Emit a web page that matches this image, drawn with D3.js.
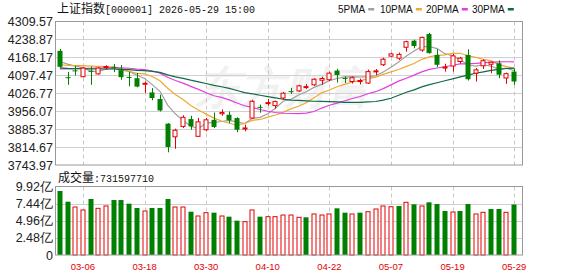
<!DOCTYPE html>
<html>
<head>
<meta charset="utf-8">
<script src="https://cdn.jsdelivr.net/npm/d3@7"></script>
<style>
  body { margin: 0; background: #fff; }
  svg text { font-family: "Liberation Sans", Arial, sans-serif; }
</style>
</head>
<body>
<div id="chart"></div>
<script>
// trading days shown in the window
var dates = ["03-03","03-04","03-05","03-06","03-09","03-10","03-11","03-12","03-13","03-16",
  "03-17","03-18","03-19","03-20","03-23","03-24","03-25","03-26","03-27","03-30",
  "03-31","04-01","04-02","04-03","04-07","04-08","04-09","04-10","04-13","04-14",
  "04-15","04-16","04-17","04-20","04-21","04-22","04-23","04-24","04-27","04-28",
  "04-29","04-30","05-06","05-07","05-08","05-11","05-12","05-13","05-14","05-15",
  "05-18","05-19","05-20","05-21","05-22","05-25","05-26","05-27","05-28","05-29"];
var tickDates = ["03-06","03-18","03-30","04-10","04-22","05-07","05-19","05-29"];

var open  = [4194,4090,4117,4092,4115,4103,4128,4131,4118,4091, 4086,4063,4030,4004,3907,3855,3896,3925,3857,3883,
             3922,3946,3942,3929,3886,3929,3973,3986,3978,4008, 4035,4036,4050,4060,4078,4080,4116,4087,4073,4074,
             4067,4112,4139,4173,4165,4208,4234,4197,4260,4178, 4127,4134,4152,4178,4106,4135,4141,4145,4087,4112];
var high  = [4201,4111,4135,4129,4132,4129,4137,4142,4138,4112, 4107,4073,4047,4021,3909,3887,3940,3938,3930,3929,
             3951,3963,3955,3932,3903,4001,3982,4004,3998,4032, 4048,4060,4063,4086,4092,4112,4123,4093,4093,4084,
             4120,4122,4167,4186,4187,4234,4238,4250,4265,4200, 4143,4182,4170,4200,4126,4161,4151,4156,4108,4125];
var low   = [4127,4060,4097,4090,4060,4100,4120,4110,4080,4054, 4050,4028,3999,3955,3794,3808,3890,3883,3855,3877,
             3890,3938,3909,3873,3877,3925,3950,3978,3966,4000, 4024,4032,4044,4056,4060,4075,4069,4067,4065,4062,
             4064,4099,4134,4170,4158,4191,4204,4190,4183,4130, 4112,4112,4143,4077,4073,4122,4106,4086,4064,4060];
var close = [4131,4087,4113,4126,4112,4126,4132,4128,4090,4087, 4053,4066,4008,3959,3815,3881,3932,3896,3914,3922,
             3894,3951,3920,3883,3890,3995,3970,3990,3994,4027, 4032,4056,4053,4082,4085,4106,4099,4084,4088,4077,
             4112,4115,4161,4182,4180,4230,4213,4247,4185,4139, 4130,4174,4165,4082,4119,4155,4149,4100,4104,4073];
// estimated closes before the window, only used to start the moving averages
var priorCloses = [4150,4145,4140,4138,4132,4130,4128,4130,4127,4130,
                   4095,4100,4090,4105,4112,4108,4115,4110,4118,4117,
                   4110,4120,4128,4132,4140, 4140,4150,4158,4181];
var volume = [9.27e8,7.72e8,6.95e8,6.52e8,8.11e8,6.76e8,7.10e8,7.96e8,7.96e8,7.43e8,
              6.81e8,6.37e8,6.81e8,6.81e8,8.11e8,6.95e8,6.95e8,6.27e8,5.65e8,6.13e8,
              6.13e8,5.65e8,5.55e8,4.97e8,4.82e8,6.52e8,5.55e8,5.55e8,5.55e8,5.79e8,
              5.79e8,5.46e8,5.46e8,5.94e8,5.79e8,5.94e8,6.76e8,6.13e8,5.94e8,6.13e8,
              6.27e8,6.66e8,7.10e8,6.99e8,7.10e8,7.63e8,7.34e8,7.10e8,7.63e8,7.38e8,
              6.37e8,6.23e8,6.37e8,7.38e8,5.94e8,6.18e8,6.66e8,6.66e8,6.18e8,731597710];

var priceTicks = [4309.57,4238.87,4168.17,4097.47,4026.77,3956.07,3885.37,3814.67,3743.97];
var volTicks = [0, 2.48e8, 4.96e8, 7.44e8, 9.92e8];
var volTickLabels = ["0","2.48亿","4.96亿","7.44亿","9.92亿"];

var maDays = [5, 10, 20, 30];
var maColors = ["#a0a0a0", "#f0a830", "#e23ee2", "#0e6b45"];

var RED = "#e60000", GREEN = "#008000";

var W = 578, H = 276;
var left = 56, right = 522, plotEnd = 518;
var priceTop = 21.5, priceBottom = 165;
var volTop = 186.5, volBottom = 255;

var svg = d3.select("#chart").append("svg")
    .attr("width", W).attr("height", H);

var x = d3.scaleBand()
    .domain(d3.range(dates.length))
    .range([left, plotEnd])
    .padding(0);
var cx = function(i) { return x(i) + x.bandwidth() / 2; };

var y = d3.scaleLinear()
    .domain([priceTicks[priceTicks.length - 1], priceTicks[0]])
    .range([priceBottom, priceTop]);

var yv = d3.scaleLinear()
    .domain([0, volTicks[volTicks.length - 1]])
    .range([volBottom, volTop]);

// title
var title = svg.append("text").attr("x", 57).attr("y", 13).attr("font-size", 12).attr("fill", "#111");
title.append("tspan").attr("font-family", "Noto Sans CJK SC").text("上证指数");
title.append("tspan").attr("font-family", "Liberation Mono").attr("font-size", 10).text("[000001] 2026-05-29 15:00");

// legend
var legendX = [338, 380, 426, 472];
maDays.forEach(function(n, k) {
  var t = svg.append("text")
      .attr("x", legendX[k]).attr("y", 13)
      .attr("font-family", "Liberation Mono").attr("font-size", 10)
      .attr("fill", "#111")
      .text(n + "PMA");
  var w = t.node().getComputedTextLength();
  svg.append("rect")
      .attr("x", legendX[k] + w + 3).attr("y", 8)
      .attr("width", 6).attr("height", 2.5)
      .attr("fill", maColors[k]);
});

// watermark
svg.append("text")
    .attr("x", 196).attr("y", 103)
    .attr("font-family", "Noto Sans CJK SC").attr("font-size", 44).attr("font-weight", "bold")
    .attr("font-style", "italic")
    .attr("fill", "#000").attr("opacity", 0.05)
    .text("东方财富");

// price grid
var gp = svg.append("g");
gp.selectAll("line.h").data(priceTicks.slice(1, -1)).enter().append("line")
    .attr("x1", left).attr("x2", right)
    .attr("y1", function(d) { return Math.round(y(d)) + 0.5; })
    .attr("y2", function(d) { return Math.round(y(d)) + 0.5; })
    .attr("stroke", "#d0d0d0");
var tickIdx = tickDates.map(function(d) { return dates.indexOf(d); });
[[priceTop, priceBottom], [volTop, volBottom]].forEach(function(r) {
  svg.append("g").selectAll("line").data(tickIdx).enter().append("line")
      .attr("x1", function(i) { return Math.round(cx(i)) + 0.5; })
      .attr("x2", function(i) { return Math.round(cx(i)) + 0.5; })
      .attr("y1", r[0]).attr("y2", r[1])
      .attr("stroke", "#c8c8c8").attr("stroke-dasharray", "4,3");
});
svg.append("g").selectAll("line").data(volTicks.slice(1, -1)).enter().append("line")
    .attr("x1", left).attr("x2", right)
    .attr("y1", function(d) { return Math.round(yv(d)) + 0.5; })
    .attr("y2", function(d) { return Math.round(yv(d)) + 0.5; })
    .attr("stroke", "#d0d0d0");

// axis labels
svg.append("g").selectAll("text").data(priceTicks).enter().append("text")
    .attr("x", 53).attr("y", function(d) { return y(d) + 4.5; })
    .attr("text-anchor", "end").attr("font-size", 12.5).attr("fill", "#222")
    .text(function(d) { return d.toFixed(2); });
svg.append("g").selectAll("text").data(volTicks).enter().append("text")
    .attr("x", 53).attr("y", function(d) { return yv(d) + 4.5; })
    .attr("text-anchor", "end").attr("font-size", 12.5).attr("fill", "#222")
    .text(function(d, i) { return volTickLabels[i]; });
svg.append("g").selectAll("text").data(tickIdx).enter().append("text")
    .attr("x", function(i) { return cx(i); }).attr("y", 270)
    .attr("text-anchor", "middle")
    .attr("font-family", "Liberation Mono").attr("font-size", 9.5)
    .attr("fill", RED)
    .text(function(i) { return dates[i]; });

// volume caption
var cap = svg.append("text").attr("x", 58).attr("y", 182).attr("font-size", 12).attr("fill", "#111");
cap.append("tspan").attr("font-family", "Noto Sans CJK SC").text("成交量");
cap.append("tspan").attr("font-family", "Liberation Mono").attr("font-size", 10)
    .text(":" + volume[volume.length - 1]);

// moving averages
var allCloses = priorCloses.concat(close);
var off = priorCloses.length;
maDays.forEach(function(n, k) {
  var pts = close.map(function(c, i) {
    return [cx(i), y(d3.mean(allCloses.slice(off + i - n + 1, off + i + 1)))];
  });
  svg.append("path")
      .attr("d", d3.line()(pts))
      .attr("fill", "none")
      .attr("stroke", maColors[k]).attr("stroke-width", 1.2);
});

// candles
var bw = 5;
var candles = svg.append("g").selectAll("g").data(close).enter().append("g");
candles.append("line")
    .attr("x1", function(d, i) { return Math.round(cx(i)) + 0.5; })
    .attr("x2", function(d, i) { return Math.round(cx(i)) + 0.5; })
    .attr("y1", function(d, i) { return y(high[i]); })
    .attr("y2", function(d, i) { return y(low[i]); })
    .attr("stroke", function(d, i) { return close[i] >= open[i] ? RED : GREEN; });
candles.append("rect")
    .attr("x", function(d, i) { return Math.round(cx(i)) - 2 + (close[i] >= open[i] ? 0 : -0.5); })
    .attr("width", function(d, i) { return close[i] >= open[i] ? bw - 1 : bw; })
    .attr("y", function(d, i) { return y(Math.max(open[i], close[i])); })
    .attr("height", function(d, i) { return Math.max(1, Math.abs(y(open[i]) - y(close[i]))); })
    .attr("fill", function(d, i) { return close[i] >= open[i] ? "#fff" : GREEN; })
    .attr("stroke", function(d, i) { return close[i] >= open[i] ? RED : GREEN; })
    .attr("stroke-width", function(d, i) { return close[i] >= open[i] ? 1 : 0; });

// volume bars, coloured by close against previous close
var volUp = function(i) { return i === 0 ? close[0] >= open[0] : close[i] >= close[i - 1]; };
svg.append("g").selectAll("rect").data(volume).enter().append("rect")
    .attr("x", function(d, i) { return Math.round(cx(i)) - 2 + (volUp(i) ? 0 : -0.5); })
    .attr("width", function(d, i) { return volUp(i) ? bw - 1 : bw; })
    .attr("y", function(d) { return yv(d); })
    .attr("height", function(d) { return volBottom - yv(d); })
    .attr("fill", function(d, i) { return volUp(i) ? "#fff" : GREEN; })
    .attr("stroke", function(d, i) { return volUp(i) ? RED : "none"; });

// panel frames
svg.append("rect").attr("x", left - 0.5).attr("y", priceTop).attr("width", right - left + 1)
    .attr("height", priceBottom - priceTop).attr("fill", "none").attr("stroke", "#999");
svg.append("rect").attr("x", left - 0.5).attr("y", volTop).attr("width", right - left + 1)
    .attr("height", volBottom - volTop).attr("fill", "none").attr("stroke", "#999");
</script>
</body>
</html>
